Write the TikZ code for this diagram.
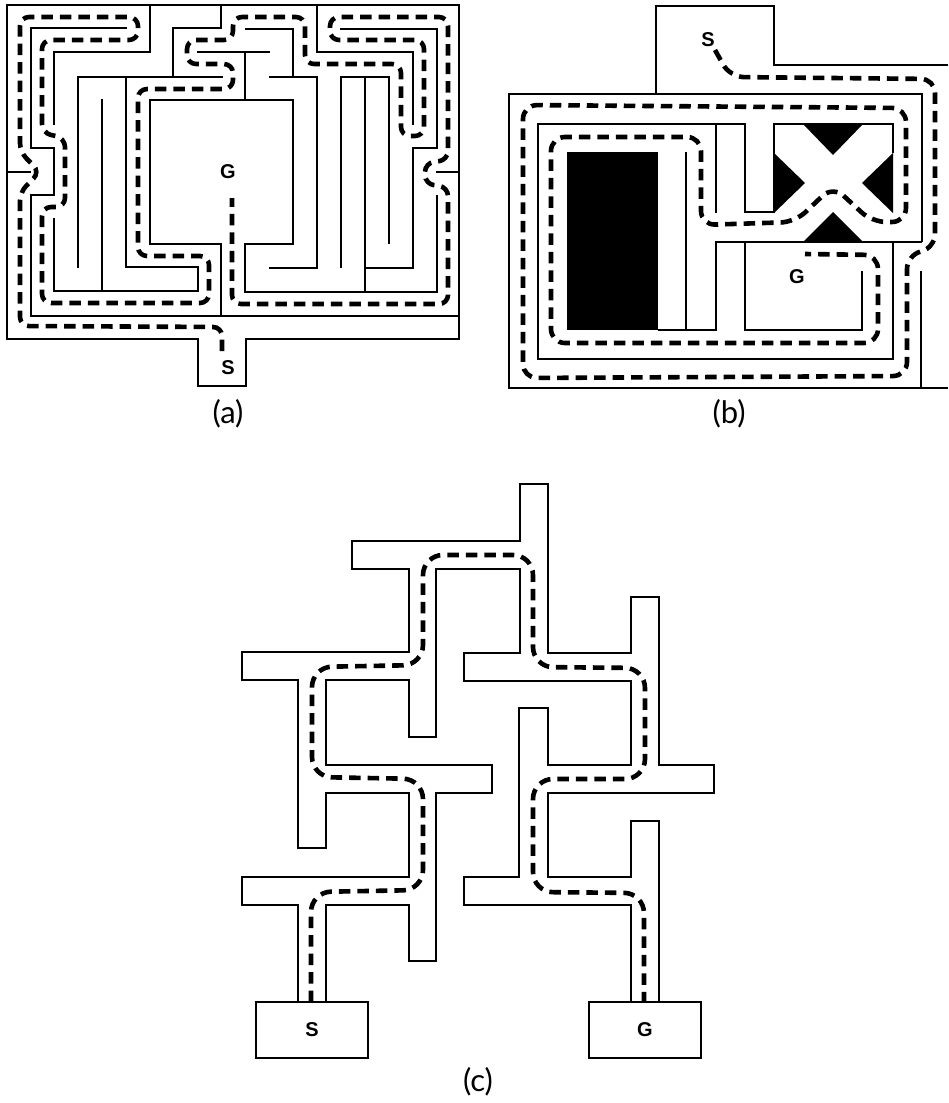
\documentclass[tikz,border=0pt]{standalone}
\usepackage{fontspec}
\setmainfont{Lato}
\newfontfamily\labfont{Liberation Sans}
\tikzset{
  wall/.style={line width=2.2pt,line join=miter,line cap=butt},
  thin wall/.style={line width=1.9pt},
  route/.style={line width=4.6pt,dash pattern=on 11.5pt off 7pt,line cap=butt},
  route a/.style={route,rounded corners=9pt},
  route b/.style={route,rounded corners=14pt},
  route c/.style={route,rounded corners=20pt},
  letter/.style={font=\labfont\bfseries\fontsize{20}{20}\selectfont,inner sep=0pt},
  caption/.style={font=\fontsize{31}{31}\selectfont,inner sep=0pt},
  blackshape/.style={fill=black,draw=none}
}
\begin{document}
\begin{tikzpicture}[x=1pt,y=-1pt]
\fill[white] (0,0) rectangle (948,1103);
\useasboundingbox (0,0) rectangle (948,1103);

% ---------- (a) walls ----------
\draw[wall] (7,5) -- (459,5) -- (459,339) -- (246,339) -- (246,386) -- (198,386) -- (198,339) -- (7,339) -- cycle;
\draw[wall] (7,172) -- (31,172);
\draw[wall] (127,28) -- (31,28) -- (31,148) -- (54,148) -- (54,195) -- (31,195) -- (31,316) -- (459,316);
\draw[wall] (150,5) -- (150,52) -- (54,52) -- (54,125);
\draw[wall] (54,218) -- (54,291) -- (198,291) -- (198,267) -- (126,267) -- (126,77) -- (223,77);
\draw[wall] (78,268) -- (78,77) -- (126,77);
\draw[thin wall] (102,99) -- (102,291);
\draw[wall] (221,5) -- (221,28) -- (173,28) -- (173,76);
\draw[wall] (197,52) -- (270,52);
\draw[wall] (245,52) -- (245,100);
\draw[wall] (221,316) -- (221,244) -- (150,244) -- (150,100) -- (293,100) -- (293,244) -- (245,244) -- (245,292) -- (437,292) -- (437,195);
\draw[wall] (245,29) -- (293,29) -- (293,77);
\draw[wall] (269,77) -- (317,77) -- (317,268) -- (269,268);
\draw[wall] (317,5) -- (317,52) -- (413,52) -- (413,125);
\draw[wall] (340,29) -- (437,29) -- (437,148) -- (413,148) -- (413,268) -- (365,268);
\draw[wall] (341,268) -- (341,77) -- (389,77) -- (389,244);
\draw[wall] (365,77) -- (365,292);
\draw[wall] (436,172) -- (459,172);

\draw[route a] (222,351) -- (222,327) -- (20,326) -- (20,192) -- (40,172) -- (20,152) -- (20,17) -- (138,17) -- (138,40) -- (42,40) -- (42,133) -- (65,138) -- (65,207) -- (42,207) -- (42,303) -- (209,303) -- (209,256) -- (138,256) -- (138,89) -- (233,89) -- (233,64) -- (187,64) -- (187,40) -- (233,40) -- (233,17) -- (305,17) -- (305,64) -- (401,64) -- (401,136) -- (424,136) -- (424,40) -- (330,40) -- (330,17) -- (448,17) -- (448,160) -- (425,163) -- (425,184) -- (448,187) -- (448,304) -- (232,304) -- (232,198);
\node[letter] (sa) at (228,368) {S};
\node[letter] (ga) at (228,172) {G};
\node[caption] (capa) at (228,414) {(a)};

% ---------- (b) walls ----------
\fill[blackshape] (567,152) rectangle (658,330);
\fill[blackshape] (803,124) -- (833,155) -- (863,124) -- cycle;
\fill[blackshape] (774,153) -- (805,183) -- (774,213) -- cycle;
\fill[blackshape] (893,153) -- (862,183) -- (893,213) -- cycle;
\fill[blackshape] (803,242) -- (833,212) -- (863,242) -- cycle;
\draw[wall] (656,94) -- (656,6) -- (774,6) -- (774,65) -- (948,65);
\draw[wall] (922,242) -- (922,94) -- (509,94) -- (509,388) -- (948,388);
\draw[wall] (921,271) -- (921,388);
\draw[wall] (893,242) -- (893,359) -- (538,359) -- (538,124) -- (745,124) -- (745,212) -- (774,212) -- (774,124) -- (893,124) -- (893,153);
\draw[wall] (716,124) -- (716,213);
\draw[wall] (922,242) -- (716,242) -- (716,330) -- (658,330);
\draw[thin wall] (686,152) -- (686,330);
\draw[wall] (745,242) -- (745,330) -- (862,330) -- (862,271);
\draw[route b] (715,50) -- (730,77) -- (935,79) -- (935,248) -- (907,255) -- (907,376) -- (523,378) -- (523,105) -- (906,108) -- (906,222) -- (872,222) -- (833,186) -- (795,222) -- (701,225) -- (701,137) -- (551,137) -- (551,343) -- (878,343) -- (878,255) -- (805,254);
\node[letter] (sb) at (708,40) {S};
\node[letter] (gb) at (797,277) {G};
\node[caption] (capb) at (729,414) {(b)};

% ---------- (c) walls ----------
\draw[wall] (298,1002) -- (298,905) -- (242,905) -- (242,877) -- (409,877) -- (409,793) -- (326,793) -- (326,848) -- (298,848) -- (298,680) -- (242,680) -- (242,652) -- (409,652) -- (409,569) -- (352,569) -- (352,541) -- (520,541) -- (520,484) -- (548,484) -- (548,653) -- (631,653) -- (631,597) -- (659,597) -- (659,765) -- (714,765) -- (714,793) -- (548,793) -- (548,877) -- (631,877) -- (631,821) -- (659,821) -- (659,1002);
\draw[wall] (631,1002) -- (631,905) -- (464,905) -- (464,877) -- (519,877) -- (519,708) -- (548,708) -- (548,765) -- (631,765) -- (631,681) -- (464,681) -- (464,653) -- (520,653) -- (520,569) -- (436,569) -- (436,737) -- (409,737) -- (409,680) -- (326,680) -- (326,765) -- (492,765) -- (492,793) -- (436,793) -- (436,961) -- (409,961) -- (409,905) -- (326,905) -- (326,1002);
\draw[wall] (256,1002) rectangle (368,1058);
\draw[wall] (589,1002) rectangle (701,1058);
\draw[route c] (311,1002) -- (311,892) -- (423,890) -- (423,779) -- (312,777) -- (312,667) -- (423,665) -- (423,555) -- (533,555) -- (533,667) -- (645,668) -- (645,779) -- (533,779) -- (533,892) -- (644,893) -- (644,1002);
\node[letter] (sc) at (312,1030) {S};
\node[letter] (gc) at (645,1030) {G};
\node[caption] (capc) at (478,1082) {(c)};
\end{tikzpicture}
\end{document}
